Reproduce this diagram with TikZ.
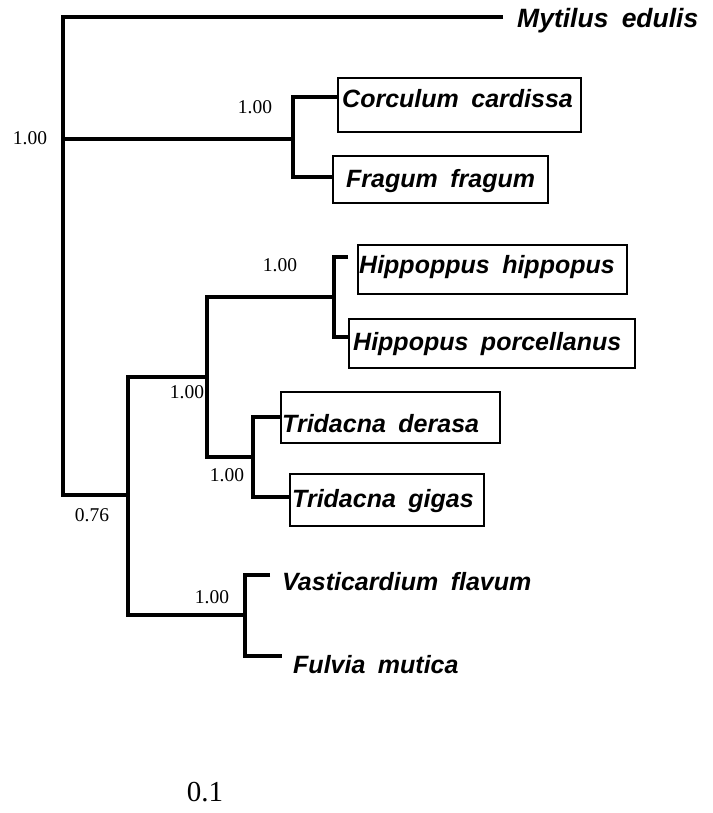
\documentclass[tikz,border=0pt]{standalone}
\usepackage{fontspec}
\setmainfont{Liberation Serif}
\newfontfamily\taxfont{Liberation Sans}[WordSpace=1.8]
\begin{document}
\begin{tikzpicture}[x=1pt,y=-1pt,
  branch/.style={line width=3.6pt, line join=miter},
  taxbox/.style={draw, line width=1.8pt, inner sep=0pt, anchor=north west},
  taxon/.style={font=\taxfont\bfseries\itshape\fontsize{25}{29}\selectfont, inner sep=0pt, anchor=base west},
  support/.style={font=\fontsize{19.5}{22}\selectfont, inner sep=0pt}]
\useasboundingbox (0,0) rectangle (712,813);

% internal nodes of the tree
\coordinate (root) at (63,139);
\coordinate (ncf) at (293,139);
\coordinate (na) at (128,495);
\coordinate (nb) at (207,377);
\coordinate (nh) at (334,297);
\coordinate (nt) at (253,457);
\coordinate (nv) at (245,615);

% tip ends of the terminal branches
\coordinate (emyt) at (503,17);
\coordinate (ecor) at (337,97);
\coordinate (efra) at (332,177);
\coordinate (ehip) at (348,257);
\coordinate (epor) at (348,337);
\coordinate (eder) at (280,417);
\coordinate (egig) at (290,497);
\coordinate (evas) at (270,575);
\coordinate (eful) at (282,656);

% boxes around the framed taxa
\node[taxbox, minimum width=243pt, minimum height=54pt] (bcor) at (337,77) {};
\node[taxbox, minimum width=215pt, minimum height=47pt] (bfra) at (332,155) {};
\node[taxbox, minimum width=269pt, minimum height=49pt] (bhip) at (357,244) {};
\node[taxbox, minimum width=286pt, minimum height=49pt] (bpor) at (348,318) {};
\node[taxbox, minimum width=219pt, minimum height=51pt] (bder) at (280,391) {};
\node[taxbox, minimum width=194pt, minimum height=52pt] (bgig) at (289,473) {};

% taxon names
\node[taxon, font=\taxfont\bfseries\itshape\fontsize{26.5}{30}\selectfont] (tmyt) at (517,28) {Mytilus edulis};
\node[taxon] (tcor) at (342,108) {Corculum cardissa};
\node[taxon] (tfra) at (346,188) {Fragum fragum};
\node[taxon] (thip) at (359,273) {Hippoppus hippopus};
\node[taxon] (tpor) at (353,350) {Hippopus porcellanus};
\node[taxon] (tder) at (282,432) {Tridacna derasa};
\node[taxon] (tgig) at (292,507) {Tridacna gigas};
\node[taxon] (tvas) at (282,590) {Vasticardium flavum};
\node[taxon] (tful) at (293,673) {Fulvia mutica};

% branches
\draw[branch] (emyt) -| (root) |- (na);
\draw[branch] (root) -- (ncf);
\draw[branch] (ecor) -| (ncf) |- (efra);
\draw[branch] (nb) -| (na) |- (nv);
\draw[branch] (nh) -| (nb) |- (nt);
\draw[branch] (ehip) -| (nh) |- (epor);
\draw[branch] (eder) -| (nt) |- (egig);
\draw[branch] (evas) -| (nv) |- (eful);

% support values
\node[support] (s1) at (30,138) {1.00};
\node[support] (s2) at (255,107) {1.00};
\node[support] (s3) at (280,265) {1.00};
\node[support] (s4) at (187,392) {1.00};
\node[support] (s5) at (227,475) {1.00};
\node[support] (s6) at (92,515) {0.76};
\node[support] (s7) at (212,597) {1.00};

% scale
\node[font=\fontsize{29}{32}\selectfont, inner sep=0pt] (scale) at (205,792) {0.1};
\end{tikzpicture}
\end{document}
